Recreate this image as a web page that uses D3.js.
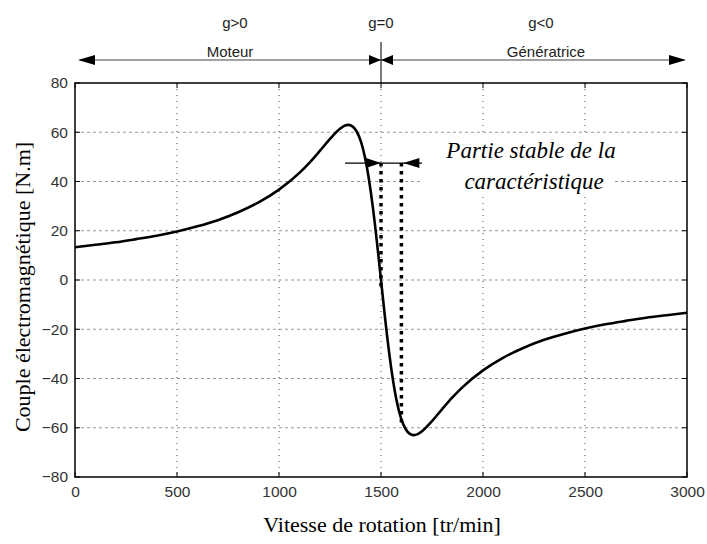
<!DOCTYPE html>
<html><head><meta charset="utf-8">
<script src="https://cdn.jsdelivr.net/npm/d3@7"></script>
<style>body{margin:0;background:#fff}svg{display:block}</style>
</head><body>
<script>
// Data
const speed = [0,100,200,300,400,500,600,700,800,900,1000,1100,1150,1200,1250,1300,1320,1340,1360,1380,1400,1410,1420,1430,1440,1450,1460,1470,1480,1490,1500,1510,1520,1530,1540,1550,1560,1570,1580,1590,1600,1620,1640,1660,1680,1700,1750,1800,1850,1900,2000,2100,2200,2300,2400,2500,2600,2700,2800,2900,3000];
const torque = [13.3,14.3,15.3,16.6,18.0,19.7,21.8,24.3,27.5,31.5,36.7,43.5,47.7,52.4,57.3,61.5,62.6,63.0,62.4,60.4,56.6,53.8,50.3,46.2,41.3,35.8,29.6,22.8,15.5,7.8,0,-7.8,-15.5,-22.8,-29.6,-35.8,-41.3,-46.2,-50.3,-53.8,-56.6,-60.4,-62.4,-63.0,-62.6,-61.5,-57.3,-52.4,-47.7,-43.5,-36.7,-31.5,-27.5,-24.3,-21.8,-19.7,-18.0,-16.6,-15.3,-14.3,-13.3];
const xTicks = [0,500,1000,1500,2000,2500,3000];
const yTicks = [-80,-60,-40,-20,0,20,40,60,80];
const topLabels = ["g>0","g=0","g<0"];
const regionLabels = ["Moteur","Génératrice"];
const stableBounds = [1500,1600];
const stableLevel = 47.5;
const annotationLines = ["Partie stable de la","caractéristique"];

const W=707,H=544;
const svg=d3.select("body").append("svg").attr("width",W).attr("height",H);
const L=75,R=687,T=83,B=477;
const x=d3.scaleLinear().domain([0,3000]).range([L,R]);
const y=d3.scaleLinear().domain([-80,80]).range([B,T]);

// grid
const g=svg.append("g");
g.selectAll(".vg").data(xTicks.slice(1,-1)).enter().append("line")
 .attr("x1",d=>x(d)).attr("x2",d=>x(d)).attr("y1",T).attr("y2",B)
 .attr("stroke","#444").attr("stroke-width",1).attr("stroke-dasharray","1,5");
g.selectAll(".hg").data(yTicks.slice(1,-1)).enter().append("line")
 .attr("x1",L).attr("x2",R).attr("y1",d=>y(d)).attr("y2",d=>y(d))
 .attr("stroke","#999").attr("stroke-width",1).attr("stroke-dasharray","3,3");

// white box behind annotation text
svg.append("rect").attr("x",423).attr("y",137).attr("width",189).attr("height",56).attr("fill","#fff");

// axes
const fontTick="Liberation Sans, Arial, sans-serif";
const ax=svg.append("g").attr("transform",`translate(0,${B})`)
 .call(d3.axisBottom(x).tickValues(xTicks).tickSize(0).tickPadding(9).tickFormat(d3.format("d")));
const ay=svg.append("g").attr("transform",`translate(${L},0)`)
 .call(d3.axisLeft(y).tickValues(yTicks).tickSize(0).tickPadding(7).tickFormat(d3.format("d")));
[ax,ay].forEach(a=>{a.select(".domain").remove();a.selectAll("text").attr("font-family",fontTick).attr("font-size",15.5).attr("fill","#333");});

// inner tick marks
const tk=svg.append("g").attr("stroke","#000").attr("stroke-width",1);
xTicks.forEach(d=>{tk.append("line").attr("x1",x(d)).attr("x2",x(d)).attr("y1",B).attr("y2",B-5);tk.append("line").attr("x1",x(d)).attr("x2",x(d)).attr("y1",T).attr("y2",T+5);});
yTicks.forEach(d=>{tk.append("line").attr("x1",L).attr("x2",L+5).attr("y1",y(d)).attr("y2",y(d));tk.append("line").attr("x1",R).attr("x2",R-5).attr("y1",y(d)).attr("y2",y(d));});

// frame
svg.append("rect").attr("x",L).attr("y",T).attr("width",R-L).attr("height",B-T).attr("fill","none").attr("stroke","#000").attr("stroke-width",1.5);

// curve
const data=speed.map((s,i)=>[s,torque[i]]);
svg.append("path").datum(data).attr("fill","none").attr("stroke","#000").attr("stroke-width",2.6)
 .attr("d",d3.line().x(d=>x(d[0])).y(d=>y(d[1])).curve(d3.curveMonotoneX));

// stable region dotted lines
const dotEnds=[-4,-59];
stableBounds.forEach((b,i)=>{
 svg.append("line").attr("x1",x(b)).attr("x2",x(b)).attr("y1",y(stableLevel)).attr("y2",y(dotEnds[i]))
  .attr("stroke","#000").attr("stroke-width",3.5).attr("stroke-dasharray","3.5,4.5");
});
// annotation arrow line
const ya=y(stableLevel);
svg.append("line").attr("x1",345).attr("x2",422).attr("y1",ya).attr("y2",ya).attr("stroke","#000").attr("stroke-width",1.2);
function head(tipX,tipY,dir,len,half){
 svg.append("path").attr("d",`M${tipX},${tipY}L${tipX-dir*len},${tipY-half}L${tipX-dir*len},${tipY+half}Z`).attr("fill","#000");
}
head(x(1500),ya,1,15,5);
head(x(1600)+2,ya,-1,16,5);

const sf="Liberation Serif, Times New Roman, serif";
svg.append("text").attr("x",531).attr("y",158).attr("text-anchor","middle")
 .attr("font-family",sf).attr("font-style","italic").attr("font-size",23).text(annotationLines[0]);
svg.append("text").attr("x",534).attr("y",189).attr("text-anchor","middle")
 .attr("font-family",sf).attr("font-style","italic").attr("font-size",23).text(annotationLines[1]);

// top region arrows
const yt=60;
svg.append("line").attr("x1",80).attr("x2",684).attr("y1",yt).attr("y2",yt).attr("stroke","#444").attr("stroke-width",1.2);
svg.append("line").attr("x1",x(1500)).attr("x2",x(1500)).attr("y1",42).attr("y2",T).attr("stroke","#222").attr("stroke-width",1.2);
head(78,yt,-1,17,5);
head(686,yt,1,17,5);
head(x(1500),yt,1,12,5);
head(x(1500),yt,-1,12,5);

const tf="Liberation Sans, Arial, sans-serif";
[[235,topLabels[0]],[x(1500),topLabels[1]],[541,topLabels[2]]].forEach(([px,t])=>{
 svg.append("text").attr("x",px).attr("y",28).attr("text-anchor","middle").attr("font-family",tf).attr("font-size",15).attr("fill","#222").text(t);
});
svg.append("text").attr("x",230).attr("y",57).attr("text-anchor","middle").attr("font-family",tf).attr("font-size",15).attr("fill","#222").text(regionLabels[0]);
svg.append("text").attr("x",546).attr("y",57).attr("text-anchor","middle").attr("font-family",tf).attr("font-size",15).attr("fill","#222").text(regionLabels[1]);

// axis titles
svg.append("text").attr("x",382).attr("y",532).attr("text-anchor","middle").attr("font-family",sf).attr("font-size",22).text("Vitesse de rotation [tr/min]");
svg.append("text").attr("transform",`translate(30,287) rotate(-90)`).attr("text-anchor","middle").attr("font-family",sf).attr("font-size",22).text("Couple électromagnétique [N.m]");
</script>
</body></html>
